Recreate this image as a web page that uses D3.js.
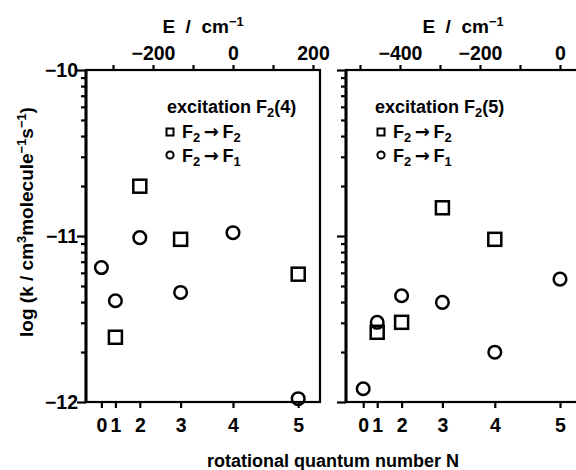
<!DOCTYPE html>
<html>
<head>
<meta charset="utf-8">
<script src="https://cdn.jsdelivr.net/npm/d3@7"></script>
<style>
  body { margin: 0; background: #fff; }
  svg { display: block; }
  text { font-family: "Liberation Sans", Arial, sans-serif; font-weight: bold; fill: #000; white-space: pre; }
  .arrow { font-family: "DejaVu Sans", sans-serif; }
</style>
</head>
<body>
<svg id="chart" width="576" height="470"></svg>
<script>
// Rotational levels N and their term energies (cm^-1, relative to N = 0)
const rotN = [0, 1, 2, 3, 4, 5];
const termE = [0, 35, 96, 198, 329, 492];

// Excited level of each panel
const excitedN = [4, 5];

// Energy ticks on the top axes (cm^-1, relative to the excited level)
const eTicks4 = [-300, -200, -100, 0, 100, 200];
const eTicks5 = [-500, -400, -300, -200, -100, 0];

// log10 rate constant ticks
const logMajor = [-12, -11, -10];
const logMinorMult = [2, 3, 4, 5, 6, 7, 8, 9];

// Excitation F2(4): log10 k (cm^3 molecule^-1 s^-1)
const n4F2F2 = [1, 2, 3, 5];
const k4F2F2 = [-11.61, -10.70, -11.02, -11.23];
const n4F2F1 = [0, 1, 2, 3, 4, 5];
const k4F2F1 = [-11.19, -11.39, -11.01, -11.34, -10.98, -11.98];

// Excitation F2(5)
const n5F2F2 = [1, 2, 3, 4];
const k5F2F2 = [-11.58, -11.52, -10.83, -11.02];
const n5F2F1 = [0, 1, 2, 3, 4, 5];
const k5F2F1 = [-11.92, -11.52, -11.36, -11.40, -11.70, -11.26];

const svg = d3.select("#chart");
const plotTop = 70, plotBottom = 402;
const tickFont = 19.5;

const y = d3.scaleLog().domain([1e-12, 1e-10]).range([plotBottom, plotTop]);
const yTicks = [];
logMajor.forEach((p, i) => {
  yTicks.push(Math.pow(10, p));
  if (i < logMajor.length - 1) logMinorMult.forEach(m => yTicks.push(m * Math.pow(10, p)));
});
const isMajor = v => Math.abs(Math.log10(v) - Math.round(Math.log10(v))) < 1e-9;

const panels = [
  { exc: excitedN[0], x0: 86, x1: 320, dom: [-367.5, 217.5], eTicks: eTicks4,
    f22n: n4F2F2, f22k: k4F2F2, f21n: n4F2F1, f21k: k4F2F1, yLabels: true,
    leg: { tx: 167, mx: 170, lx: 182 } },
  { exc: excitedN[1], x0: 346, x1: 580, dom: [-535, 50], eTicks: eTicks5,
    f22n: n5F2F2, f22k: k5F2F2, f21n: n5F2F1, f21k: k5F2F1, yLabels: false,
    leg: { tx: 375, mx: 381, lx: 393 } }
];

function subText(sel, parts) {
  // parts: [text, shift]; shifts move the baseline for sub/superscripts and back
  parts.forEach(([t, s, cls]) => {
    const ts = sel.append("tspan").text(t);
    if (cls) ts.attr("class", cls);
    if (s === "sub") ts.attr("font-size", "0.72em").attr("dy", "0.32em");
    if (s === "sup") ts.attr("font-size", "0.68em").attr("dy", "-0.55em");
    if (s === "back-sub") ts.attr("dy", "-0.23em");
    if (s === "back-sup") ts.attr("dy", "0.37em");
  });
}

panels.forEach(p => {
  const x = d3.scaleLinear().domain(p.dom).range([p.x0, p.x1]);
  const xOfN = n => x(termE[n] - termE[p.exc]);
  const g = svg.append("g");

  // frame
  g.append("rect").attr("x", p.x0).attr("y", plotTop)
    .attr("width", p.x1 - p.x0).attr("height", plotBottom - plotTop)
    .attr("fill", "none").attr("stroke", "#000").attr("stroke-width", 2.2);
  g.append("line").attr("x1", p.x0).attr("x2", p.x0).attr("y1", plotTop).attr("y2", plotBottom)
    .attr("stroke", "#000").attr("stroke-width", 3);

  // left log axis
  const ya = g.append("g").attr("transform", `translate(${p.x0},0)`)
    .call(d3.axisLeft(y).tickValues(yTicks).tickSize(5).tickPadding(4)
      .tickFormat(v => (p.yLabels && isMajor(v)) ? "\u2212" + Math.abs(Math.round(Math.log10(v))) : ""));
  ya.select(".domain").remove();
  ya.selectAll(".tick line").attr("stroke-width", 2.2)
    .attr("x2", v => isMajor(v) ? -9 : -5);
  ya.selectAll(".tick text").attr("font-size", tickFont).attr("font-family", null).attr("x", -8);

  // top energy axis
  const xa = g.append("g").attr("transform", `translate(0,${plotTop})`)
    .call(d3.axisTop(x).tickValues(p.eTicks).tickSize(5).tickPadding(5)
      .tickFormat(v => v % 200 === 0 ? d3.format("d")(v) : ""));
  xa.select(".domain").remove();
  xa.selectAll(".tick line").attr("stroke-width", 2.2);
  xa.selectAll(".tick text").attr("font-size", tickFont).attr("font-family", null);

  // bottom rotational quantum number axis
  const na = g.append("g").attr("transform", `translate(0,${plotBottom})`)
    .call(d3.axisBottom(x).tickValues(rotN.map(n => termE[n] - termE[p.exc])).tickSize(6).tickPadding(10)
      .tickFormat((v, i) => rotN[i]));
  na.select(".domain").remove();
  na.selectAll(".tick line").attr("stroke-width", 2.2);
  na.selectAll(".tick text").attr("font-size", tickFont).attr("font-family", null);

  // top axis title
  const et = g.append("text").attr("x", (p.x0 + p.x1) / 2).attr("y", 33)
    .attr("text-anchor", "middle").attr("font-size", 19);
  subText(et, [["E  /  cm", null], ["\u22121", "sup"]]);

  // data: F2 -> F2 (squares), F2 -> F1 (circles)
  const s = 13;
  g.selectAll("rect.f22").data(p.f22n.map((n, i) => [n, p.f22k[i]])).join("rect")
    .attr("class", "f22")
    .attr("x", d => xOfN(d[0]) - s / 2).attr("y", d => y(Math.pow(10, d[1])) - s / 2)
    .attr("width", s).attr("height", s)
    .attr("fill", "none").attr("stroke", "#000").attr("stroke-width", 2.5);
  g.selectAll("circle.f21").data(p.f21n.map((n, i) => [n, p.f21k[i]])).join("circle")
    .attr("class", "f21")
    .attr("cx", d => xOfN(d[0])).attr("cy", d => y(Math.pow(10, d[1])))
    .attr("r", 6.3)
    .attr("fill", "none").attr("stroke", "#000").attr("stroke-width", 2.5);

  // legend
  const lt = g.append("text").attr("x", p.leg.tx).attr("y", 113).attr("font-size", 18);
  subText(lt, [["excitation F", null], ["2", "sub"], ["(" + p.exc + ")", "back-sub"]]);
  g.append("rect").attr("x", p.leg.mx - 3.5).attr("y", 132 - 3.5).attr("width", 7).attr("height", 7)
    .attr("fill", "none").attr("stroke", "#000").attr("stroke-width", 2);
  g.append("circle").attr("cx", p.leg.mx).attr("cy", 155).attr("r", 3.6)
    .attr("fill", "none").attr("stroke", "#000").attr("stroke-width", 2);
  const l1 = g.append("text").attr("x", p.leg.lx).attr("y", 138).attr("font-size", 18);
  subText(l1, [["F", null], ["2", "sub"], ["\u2009\u2192\u2009", "back-sub", "arrow"], ["F", null], ["2", "sub"]]);
  const l2 = g.append("text").attr("x", p.leg.lx).attr("y", 162).attr("font-size", 18);
  subText(l2, [["F", null], ["2", "sub"], ["\u2009\u2192\u2009", "back-sub", "arrow"], ["F", null], ["1", "sub"]]);
});

// y axis title
const yt = svg.append("text").attr("transform", "translate(33,222) rotate(-90)")
  .attr("text-anchor", "middle").attr("font-size", 19);
subText(yt, [["log (k / cm", null], ["3", "sup"], ["molecule", "back-sup"], ["\u22121", "sup"],
  ["s", "back-sup"], ["\u22121", "sup"], [")", "back-sup"]]);

// x axis title
svg.append("text").attr("x", 333).attr("y", 467).attr("text-anchor", "middle")
  .attr("font-size", 18).text("rotational quantum number N");
</script>
</body>
</html>
